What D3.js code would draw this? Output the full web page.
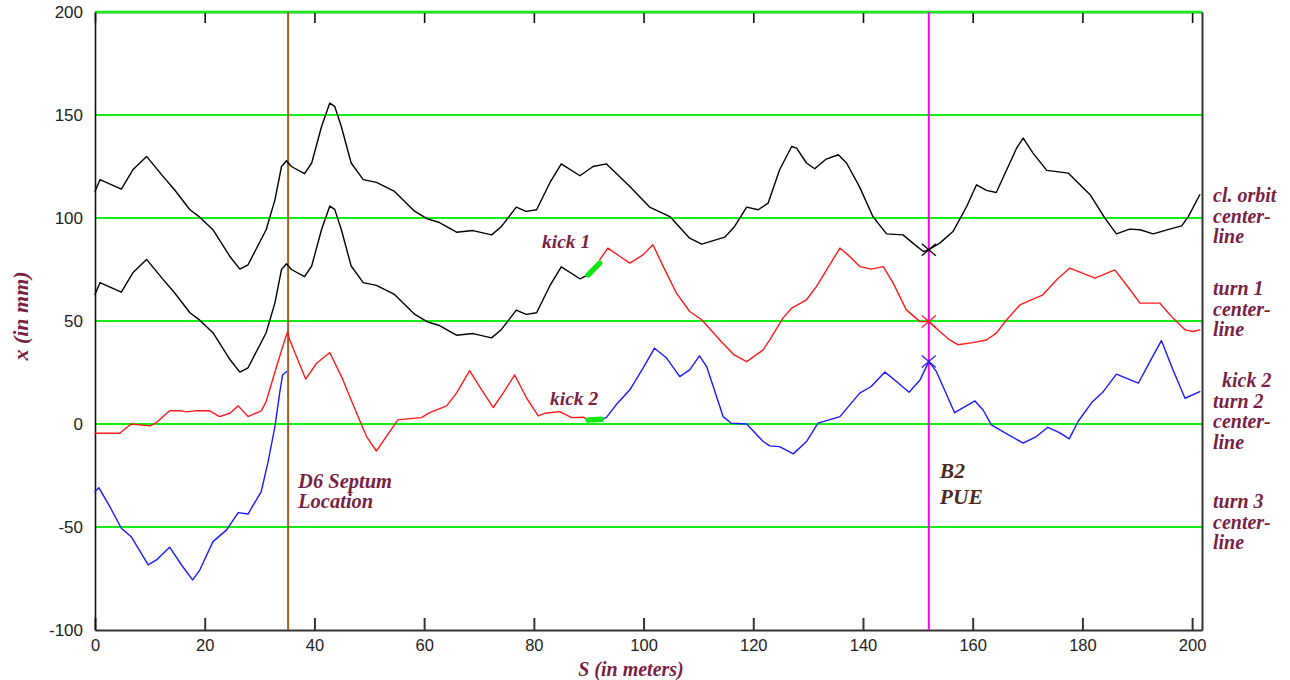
<!DOCTYPE html>
<html>
<head>
<meta charset="utf-8">
<script src="https://cdn.jsdelivr.net/npm/d3@7"></script>
<style>
  html, body { margin: 0; padding: 0; background: #ffffff; }
  svg { display: block; }
</style>
</head>
<body>
<script>
// ---------------- DATA ----------------
const xTicks = [0, 20, 40, 60, 80, 100, 120, 140, 160, 180, 200];
const yTicks = [200, 150, 100, 50, 0, -50, -100];
const gridValues = [200, 150, 100, 50, 0, -50];

// closed orbit (offset +100 mm centerline) : [S (m), x (mm)]
const clOrbit = [[0,112.9],[0.9,118.6],[4.8,114.0],[6.9,123.4],[9.4,129.9],[12.4,120.2],[14.5,113.7],[17.3,104.0],[19.1,100.4],[21.5,94.3],[24.6,81.3],[26.4,75.2],[27.9,77.3],[31.2,94.3],[32.8,108.8],[34.0,125.0],[34.9,127.8],[35.8,125.0],[38.2,121.5],[39.5,126.7],[41.3,144.4],[42.8,155.8],[43.7,154.2],[44.9,144.4],[46.7,126.7],[48.9,118.6],[51.3,117.3],[54.6,112.9],[58.3,103.2],[60.6,99.6],[62.8,97.8],[65.9,93.1],[68.9,93.9],[72.3,91.8],[74.1,95.9],[76.8,105.3],[78.6,103.2],[80.5,104.0],[82.9,117.0],[85.0,126.3],[88.4,120.5],[90.8,125.0],[93.2,126.3],[97.5,115.3],[101.1,105.3],[104.8,100.7],[108.4,90.2],[110.6,87.3],[114.8,90.7],[116.6,95.9],[118.8,105.3],[120.9,104.0],[122.7,107.2],[124.8,123.4],[127.0,134.7],[127.9,133.9],[129.7,126.7],[131.2,123.9],[133.3,128.6],[135.5,130.7],[137.0,126.7],[139.4,115.0],[141.8,100.7],[144.3,92.3],[147.3,91.8],[149.1,87.8],[151.0,83.7],[152.0,84.6],[154.0,87.8],[156.4,93.4],[158.9,105.6],[160.7,116.1],[162.5,113.4],[164.3,112.4],[166.2,123.4],[168.0,133.9],[169.2,138.8],[171.0,131.5],[173.5,123.1],[177.4,121.8],[181.4,111.3],[184.1,99.9],[186.2,92.3],[188.6,94.6],[190.5,94.3],[192.9,92.3],[195.9,94.6],[198.1,96.2],[199.3,100.7],[201.4,111.3]];

// turn 1 before kick 1 (black)
const turn1Before = [[0,62.9],[0.9,68.6],[4.8,64.0],[6.9,73.4],[9.4,79.9],[12.4,70.2],[14.5,63.7],[17.3,54.0],[19.1,50.4],[21.5,44.3],[24.6,31.3],[26.4,25.2],[27.9,27.3],[31.2,44.3],[32.8,58.8],[34.0,75.0],[34.9,77.8],[35.8,75.0],[38.2,71.5],[39.5,76.7],[41.3,94.4],[42.8,105.8],[43.7,104.2],[44.9,94.4],[46.7,76.7],[48.9,68.6],[51.3,67.3],[54.6,62.9],[58.3,53.2],[60.6,49.6],[62.8,47.8],[65.9,43.1],[68.9,43.9],[72.3,41.8],[74.1,45.9],[76.8,55.3],[78.6,53.2],[80.5,54.0],[82.9,67.0],[85.0,76.3],[88.4,70.5],[89.9,72.4]];

// kick 1 (green)
const kick1 = [[89.9,72.4],[92.0,78.1]];

// turn 1 after kick 1 (red)
const turn1After = [[92.0,79.7],[93.5,85.4],[95.7,81.3],[97.5,78.1],[99.9,82.1],[101.7,87.0],[103.6,76.4],[106.0,63.5],[108.4,54.6],[110.6,50.6],[113.9,40.8],[116.5,33.5],[118.8,30.3],[121.8,36.0],[123.0,40.8],[125.4,51.4],[127.0,56.2],[129.7,60.3],[131.5,66.7],[135.8,85.4],[137.5,81.5],[139.4,76.4],[141.5,75.2],[143.7,76.4],[145.5,68.4],[147.9,55.4],[150.4,49.7],[152.0,49.7],[154.0,44.9],[155.8,40.8],[157.3,38.5],[160.0,39.5],[162.5,40.8],[164.3,44.1],[166.2,50.6],[168.6,57.8],[172.8,62.7],[175.3,70.0],[177.7,75.7],[182.3,70.8],[185.9,74.8],[188.0,67.6],[190.5,58.7],[194.1,58.7],[196.5,51.4],[198.7,45.7],[200.2,44.9],[201.4,45.7]];

// turn 2 before kick 2 (red)
const turn2Before = [[0,-4.5],[4.5,-4.5],[6.6,0],[10.0,-0.9],[11.2,0.7],[13.6,6.4],[15.7,6.4],[16.7,5.9],[18.5,6.5],[20.9,6.4],[22.7,3.6],[24.6,5.2],[26.1,8.8],[27.9,3.6],[30.3,6.4],[31.2,10.9],[33.1,27.9],[34.6,40.8],[35.1,44.7],[35.5,40.8],[38.4,21.8],[40.4,29.5],[42.8,34.7],[45.2,21.4],[47.7,5.2],[49.5,-6.1],[51.3,-13.1],[53.1,-6.1],[55.2,2.0],[57.4,2.6],[59.5,3.1],[61.0,5.5],[64.1,8.8],[65.9,15.0],[68.3,25.9],[70.1,18.2],[72.6,8.0],[74.4,15.0],[76.5,23.8],[78.7,12.5],[80.8,3.9],[82.0,5.2],[84.7,6.0],[86.9,3.1],[89.0,3.3],[89.9,2.0]];

// kick 2 (green)
const kick2 = [[89.9,2.0],[92.3,2.3]];

// turn 2 after kick 2 (blue)
const turn2After = [[92.3,2.3],[93.2,3.1],[95.0,9.3],[97.5,16.6],[99.9,27.1],[102.0,36.8],[104.2,32.0],[106.6,23.0],[108.4,26.3],[110.2,33.1],[111.5,27.9],[114.5,3.6],[116.0,0.4],[118.8,0],[121.8,-8.5],[123.0,-10.6],[124.8,-11.0],[127.3,-14.5],[129.7,-8.5],[131.8,0.4],[135.8,3.6],[139.4,15.0],[141.5,18.2],[144.0,25.2],[146.1,20.6],[148.4,15.4],[150.4,21.4],[152.0,30.3],[153.4,25.4],[156.7,5.5],[160.4,11.2],[161.9,6.8],[163.4,-0.4],[165.5,-3.7],[169.2,-9.3],[171.6,-6.1],[173.7,-1.6],[175.8,-4.2],[177.6,-7.2],[179.2,1.2],[181.7,10.4],[183.8,15.7],[186.2,24.2],[190.2,19.8],[192.3,30.3],[194.4,40.5],[196.5,26.3],[198.7,12.5],[201.4,15.7]];

// turn 3 (blue) up to the septum
const turn3 = [[0,-32.8],[0.7,-30.9],[2.7,-40.1],[4.8,-50.6],[6.6,-54.7],[9.7,-68.4],[11.2,-66.0],[13.6,-59.8],[16.0,-69.3],[17.8,-75.7],[19.1,-70.9],[21.5,-57.1],[24.0,-51.4],[26.1,-43.0],[27.9,-43.7],[30.3,-32.8],[31.5,-19.0],[32.8,-1.3],[33.7,15.7],[34.2,23.8],[34.9,25.4]];

// PUE crosses: [S, x]
const pueMarks = [[152.0, 84.6], [152.0, 49.7], [152.0, 30.3]];
const pueMarkColors = ["#000000", "#ff2020", "#2020ff"];

const septumS = 35.2;
const pueS = 152.0;

const rightLabels = [
  {lines: ["cl. orbit", "center-", "line"], y0: 202, dx: 0},
  {lines: ["turn 1", "center-", "line"], y0: 295, dx: 0},
  {lines: ["kick 2", "turn 2", "center-", "line"], y0: 387, dx: 9},
  {lines: ["turn 3", "center-", "line"], y0: 508, dx: 0}
];

// ---------------- DRAWING ----------------
const W = 1290, H = 680;
const svg = d3.select("body").append("svg").attr("width", W).attr("height", H);

const xMax = 201.8;
const x = d3.scaleLinear().domain([0, xMax]).range([95, 1202]);
const y = d3.scaleLinear().domain([-100, 200]).range([630, 12]);

const maroon = "#7a1f45";
const serif = "'Liberation Serif', 'Times New Roman', serif";
const sans = "'Liberation Sans', Arial, sans-serif";
const green = "#14ee14";

// top axis (inward ticks)
const topAxis = svg.append("g").attr("transform", `translate(0,${y(200)})`)
  .call(d3.axisTop(x).tickValues(xTicks).tickSizeInner(-11).tickSizeOuter(0).tickFormat(""));
topAxis.selectAll("path, line").attr("stroke", "#111").attr("stroke-width", 1.6);

// grid lines
svg.append("g").selectAll("line").data(gridValues).join("line")
  .attr("x1", x(0)).attr("x2", x(xMax))
  .attr("y1", d => y(d)).attr("y2", d => y(d))
  .attr("stroke", green).attr("stroke-width", d => d === 200 ? 2.5 : 2);

// bottom axis
const botAxis = svg.append("g").attr("transform", `translate(0,${y(-100)})`)
  .call(d3.axisBottom(x).tickValues(xTicks).tickSizeInner(-12).tickSizeOuter(0).tickPadding(9));
botAxis.selectAll("path, line").attr("stroke", "#333").attr("stroke-width", 2);
botAxis.selectAll("text").attr("font-family", sans).attr("font-size", 16.5).attr("fill", "#222");

// left axis
const leftAxis = svg.append("g").attr("transform", `translate(${x(0)},0)`)
  .call(d3.axisLeft(y).tickValues(yTicks).tickSize(0).tickPadding(12)
    .tickFormat(d => d < 0 ? "-" + Math.abs(d) : d));
leftAxis.select("path").attr("stroke", "#111").attr("stroke-width", 1.6);
leftAxis.selectAll("text").attr("font-family", sans).attr("font-size", 17).attr("fill", "#222");

// right axis
const rightAxis = svg.append("g").attr("transform", `translate(${x(xMax)},0)`)
  .call(d3.axisRight(y).tickValues([]).tickSizeOuter(0));
rightAxis.select("path").attr("stroke", "#333").attr("stroke-width", 2);

// vertical marker lines
svg.append("line").attr("x1", x(septumS)).attr("x2", x(septumS))
  .attr("y1", y(200)).attr("y2", y(-100))
  .attr("stroke", "#a35f2a").attr("stroke-width", 2);
svg.append("line").attr("x1", x(pueS)).attr("x2", x(pueS))
  .attr("y1", y(200)).attr("y2", y(-100))
  .attr("stroke", "#ff00ff").attr("stroke-width", 2);

// curves
const line = d3.line().x(d => x(d[0])).y(d => y(d[1]));
const curves = [
  {data: clOrbit, color: "#000000", w: 1.4},
  {data: turn1Before, color: "#000000", w: 1.4},
  {data: turn1After, color: "#ff1a1a", w: 1.4},
  {data: turn2Before, color: "#ff1a1a", w: 1.4},
  {data: turn2After, color: "#1a1aff", w: 1.4},
  {data: turn3, color: "#1a1aff", w: 1.4},
  {data: kick1, color: "#10e610", w: 5.5},
  {data: kick2, color: "#10e610", w: 5.5}
];
svg.append("g").selectAll("path").data(curves).join("path")
  .attr("d", d => line(d.data))
  .attr("fill", "none")
  .attr("stroke", d => d.color)
  .attr("stroke-width", d => d.w)
  .attr("stroke-linecap", "round")
  .attr("stroke-linejoin", "round");

// X markers
const mk = svg.append("g").selectAll("g").data(pueMarks).join("g")
  .attr("transform", d => `translate(${x(d[0])},${y(d[1])})`);
mk.each(function(d, i) {
  const g = d3.select(this);
  const c = pueMarkColors[i];
  g.append("line").attr("x1", -7).attr("y1", -6).attr("x2", 7).attr("y2", 6).attr("stroke", c).attr("stroke-width", 1.3);
  g.append("line").attr("x1", -7).attr("y1", 6).attr("x2", 7).attr("y2", -6).attr("stroke", c).attr("stroke-width", 1.3);
});

// annotation texts
function label(txt, px, py, size, color) {
  return svg.append("text").attr("x", px).attr("y", py)
    .attr("font-family", serif).attr("font-weight", "bold").attr("font-style", "italic")
    .attr("font-size", size).attr("fill", color).text(txt);
}
label("D6 Septum", x(septumS) + 10, 488, 20.5, maroon);
label("Location", x(septumS) + 10, 508, 20.5, maroon);
label("kick 1", 542, 248, 19.5, maroon);
label("kick 2", 550, 405, 19.5, maroon);
label("B2", x(pueS) + 11, 478, 21.5, "#4d2a1e");
label("PUE", x(pueS) + 11, 504, 21.5, "#4d2a1e");

rightLabels.forEach(r => {
  r.lines.forEach((t, i) => {
    label(t, 1213 + (i === 0 ? r.dx : 0), r.y0 + i * 20.5, 20, maroon);
  });
});

// axis titles
svg.append("text").attr("x", 631).attr("y", 675.5).attr("text-anchor", "middle")
  .attr("font-family", serif).attr("font-weight", "bold").attr("font-style", "italic")
  .attr("font-size", 20).attr("fill", maroon).text("S (in meters)");
svg.append("text").attr("transform", "translate(28,316) rotate(-90)").attr("text-anchor", "middle")
  .attr("font-family", serif).attr("font-weight", "bold").attr("font-style", "italic")
  .attr("font-size", 22).attr("fill", maroon).text("x (in mm)");
</script>
</body>
</html>
